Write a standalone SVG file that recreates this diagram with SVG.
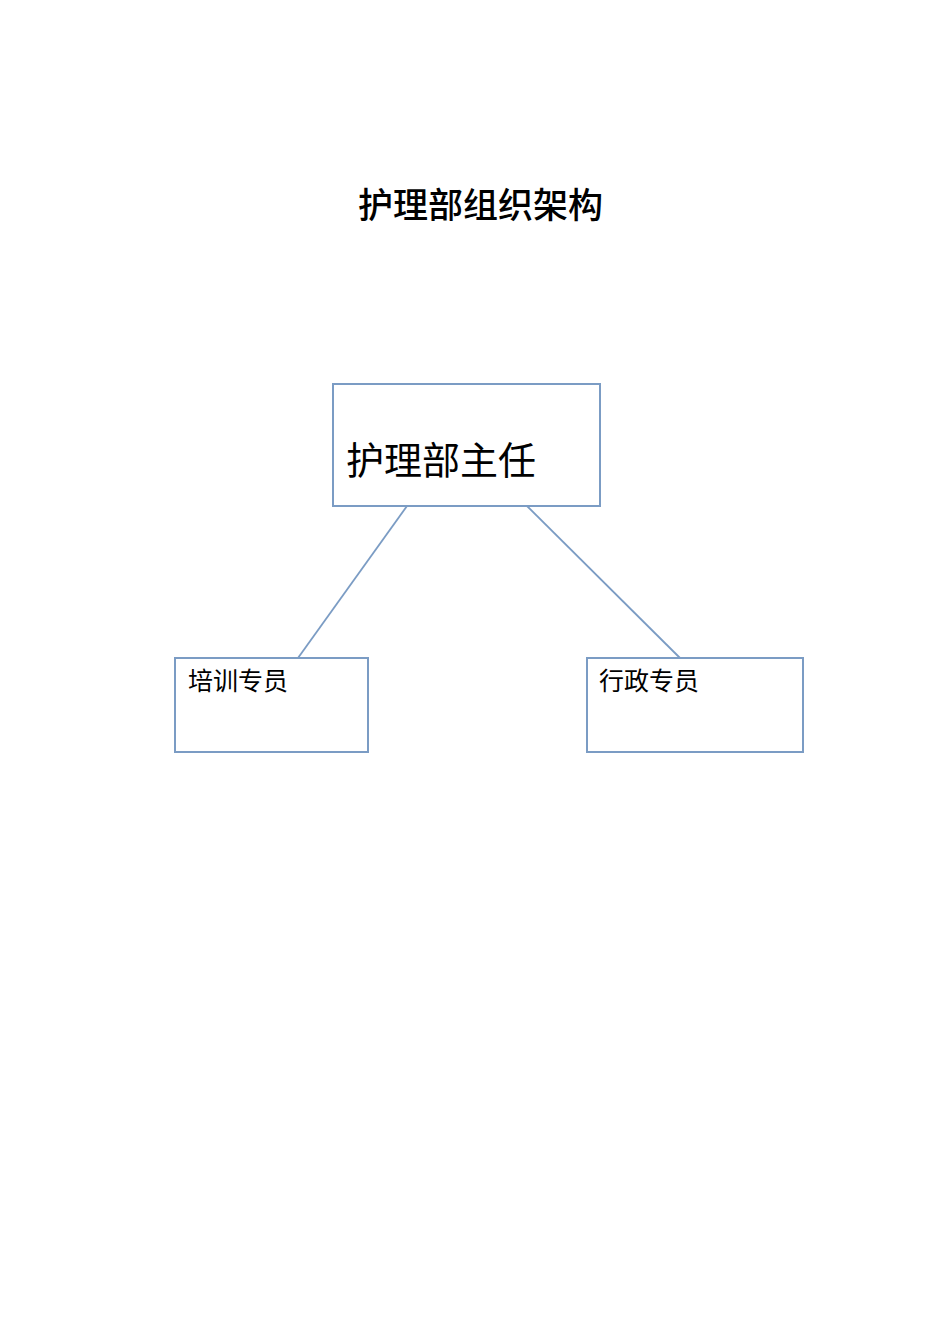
<svg xmlns="http://www.w3.org/2000/svg" width="950" height="1344" viewBox="0 0 950 1344">
<style>
.box{fill:#fff;stroke:#7b9cc4;stroke-width:2}
.conn{stroke:#7b9cc4;stroke-width:1.8;fill:none}
text{font-family:"Noto Sans CJK SC","Noto Sans",sans-serif;fill:#000}
.t{font-size:35px;font-weight:500}
.m{font-size:38px}
.s{font-size:25px}
</style>
<rect width="950" height="1344" fill="#fff"/>
<text class="t" x="358" y="218">护理部组织架构</text>
<g id="connectors">
<line class="conn" x1="407" y1="506" x2="298" y2="658"/>
<line class="conn" x1="527" y1="506" x2="680" y2="658"/>
</g>
<g id="director">
<rect class="box" x="333" y="384" width="267" height="122"/>
<text class="m" x="346" y="474">护理部主任</text>
</g>
<g id="training">
<rect class="box" x="175" y="658" width="193" height="94"/>
<text class="s" x="188" y="690">培训专员</text>
</g>
<g id="admin">
<rect class="box" x="587" y="658" width="216" height="94"/>
<text class="s" x="599" y="690">行政专员</text>
</g>
</svg>
